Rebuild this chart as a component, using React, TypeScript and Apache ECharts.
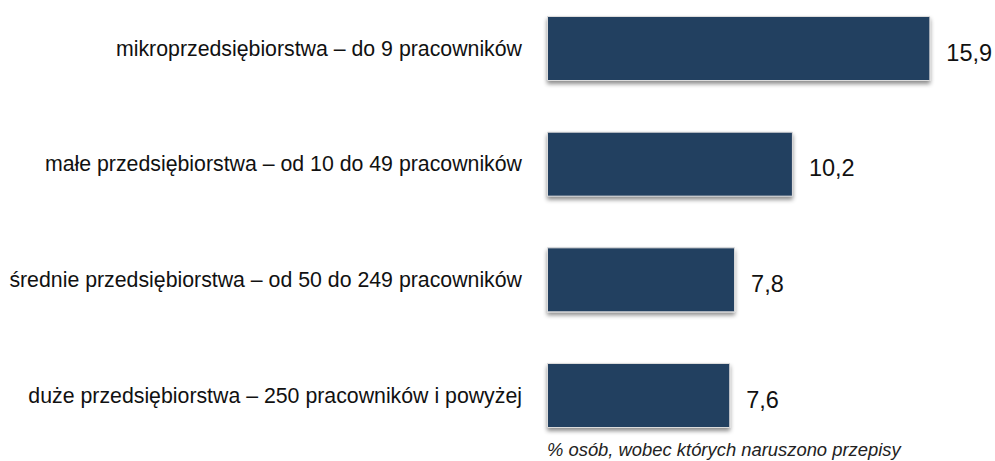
import React, { useEffect, useRef } from "react";
import * as echarts from "echarts";

const categories = [
  "mikroprzedsiębiorstwa – do 9 pracowników",
  "małe przedsiębiorstwa – od 10 do 49 pracowników",
  "średnie przedsiębiorstwa – od 50 do 249 pracowników",
  "duże przedsiębiorstwa – 250 pracowników i powyżej",
];
const values = [15.9, 10.2, 7.8, 7.6];
const axisNote = "% osób, wobec których naruszono przepisy";

export default function App() {
  const ref = useRef<HTMLDivElement>(null);
  useEffect(() => {
    if (!ref.current) return;
    const chart = echarts.init(ref.current, null, { renderer: "svg" });
    chart.setOption({
      animation: false,
      textStyle: { fontFamily: "Liberation Sans, Arial, sans-serif" },
      grid: { left: 547, right: 14, top: 48.5, height: 347, containLabel: false },
      xAxis: {
        type: "value",
        min: 0,
        max: 18,
        show: false,
      },
      yAxis: {
        type: "category",
        inverse: true,
        boundaryGap: false,
        data: categories,
        axisLine: { show: false },
        axisTick: { show: false },
        splitLine: { show: false },
        axisLabel: {
          margin: 25,
          fontSize: 21.3,
          color: "#111",
          fontFamily: "Liberation Sans, Arial, sans-serif",
        },
      },
      series: [
        {
          type: "bar",
          data: values,
          barWidth: 65,
          itemStyle: {
            color: "#243F60",
            borderColor: "#dcdcdc",
            borderWidth: 1,
            shadowColor: "rgba(0,0,0,0.45)",
            shadowBlur: 4,
            shadowOffsetY: 3,
            shadowOffsetX: 0,
          },
          label: {
            show: true,
            position: "right",
            distance: 16,
            offset: [0, 4],
            fontSize: 23.5,
            color: "#111",
            fontFamily: "Liberation Sans, Arial, sans-serif",
            formatter: (p: any) => String(p.value).replace(".", ","),
          },
        },
      ],
      graphic: [
        {
          type: "text",
          left: 547,
          top: 440,
          style: {
            text: axisNote,
            fontSize: 18.4,
            fontStyle: "italic",
            fill: "#222",
            fontFamily: "Liberation Sans, Arial, sans-serif",
          },
        },
      ],
    });
    return () => chart.dispose();
  }, []);
  return <div ref={ref} style={{ width: 995, height: 461, position: "absolute", left: 0, top: 0 }} />;
}
